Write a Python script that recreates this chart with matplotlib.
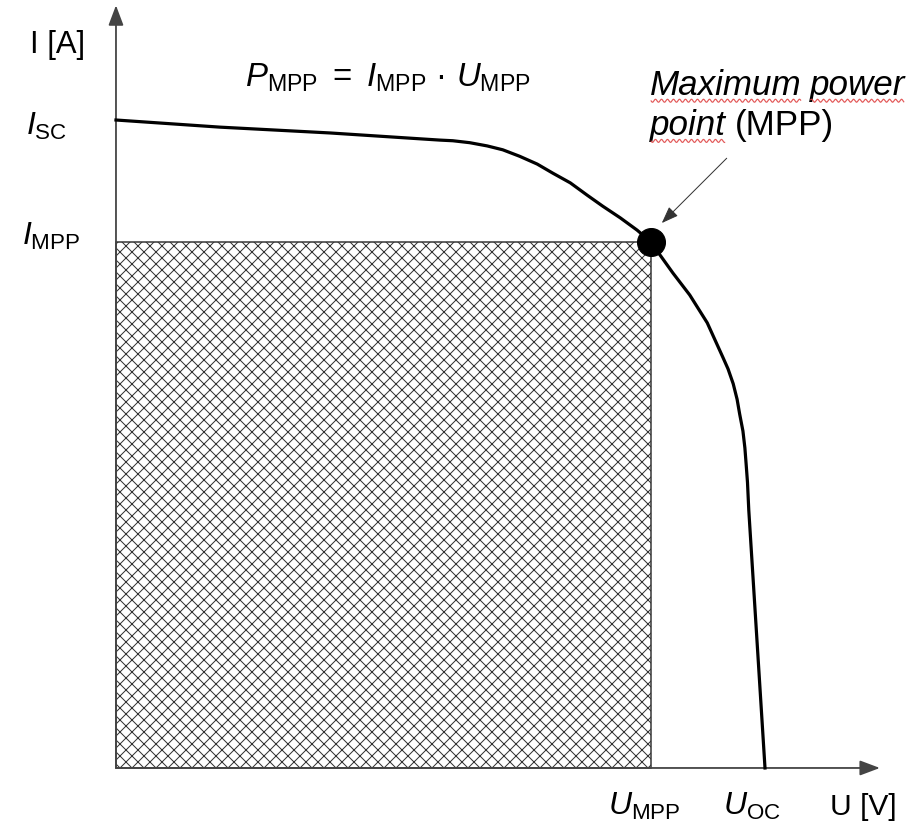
import numpy as np
import matplotlib
matplotlib.use("Agg")
import matplotlib.pyplot as plt
from matplotlib.patches import Rectangle, FancyArrowPatch
from matplotlib.lines import Line2D
from matplotlib.transforms import IdentityTransform

plt.rcParams['font.family'] = ['Liberation Sans', 'DejaVu Sans']
plt.rcParams['mathtext.fontset'] = 'custom'
plt.rcParams['mathtext.rm'] = 'Liberation Sans'
plt.rcParams['mathtext.it'] = 'Liberation Sans:italic'
plt.rcParams['mathtext.bf'] = 'Liberation Sans:bold'
plt.rcParams['hatch.linewidth'] = 1.0

# I-U characteristic (normalised: U_OC = 1, I_SC = 1)
U = [0.000, 0.160, 0.330, 0.468, 0.499, 0.519, 0.545, 0.572, 0.596, 0.622,
     0.649, 0.673, 0.700, 0.726, 0.750, 0.777, 0.803, 0.824, 0.838, 0.858,
     0.884, 0.911, 0.935, 0.943, 0.951, 0.957, 0.961, 0.966, 0.969, 0.971,
     0.973, 0.975, 1.000]
I = [1.000, 0.989, 0.980, 0.971, 0.969, 0.968, 0.965, 0.960, 0.954, 0.944,
     0.932, 0.918, 0.903, 0.884, 0.867, 0.849, 0.830, 0.812, 0.792, 0.764,
     0.730, 0.687, 0.634, 0.616, 0.593, 0.569, 0.546, 0.520, 0.494, 0.468,
     0.441, 0.398, 0.000]

I_SC = 1.0
U_OC = 1.0
U_MPP = 0.824
I_MPP = 0.812

W, H, DPI = 922, 832, 72
fig = plt.figure(figsize=(W / DPI, H / DPI), dpi=DPI)
ax = fig.add_axes([0, 0, 1, 1])
ax.set_xlim(-0.1787, 1.2419)
ax.set_ylim(-0.0988, 1.1852)
ax.axis('off')

axis_col = '#444444'

# hatched power rectangle
ax.add_patch(Rectangle((0, 0), U_MPP, I_MPP, facecolor='white',
                       edgecolor='#333333', hatch='xx', lw=1.5, zorder=1))

# axes with arrows
for end in [(0, 1.177), (1.177, 0)]:
    ax.add_patch(FancyArrowPatch((0, 0), end, arrowstyle='-|>,head_length=0.85,head_width=0.32',
                                 mutation_scale=20, color=axis_col, lw=1.8,
                                 shrinkA=0, shrinkB=0, zorder=3))

# curve and MPP
ax.plot(U, I, color='black', lw=3.2, solid_joinstyle='round', zorder=4)
ax.plot([U_MPP], [I_MPP], 'o', color='black', markersize=28, zorder=5)

fs = 32
ax.text(-0.1325, 1.103, 'I [A]', fontsize=31, va='baseline', ha='left')
ax.text(1.100, -0.0725, 'U [V]', fontsize=30, va='baseline', ha='left')

ax.annotate(r'$I_{\mathrm{SC}}$', xy=(0, I_SC), xytext=(-90, -15),
            textcoords='offset points', fontsize=fs, va='baseline', ha='left')
ax.annotate(r'$I_{\mathrm{MPP}}$', xy=(0, I_MPP), xytext=(-94, -3),
            textcoords='offset points', fontsize=fs, va='baseline', ha='left')
ax.annotate(r'$U_{\mathrm{MPP}}$', xy=(U_MPP, 0), xytext=(-43, -47),
            textcoords='offset points', fontsize=fs, va='baseline', ha='left')
ax.annotate(r'$U_{\mathrm{OC}}$', xy=(U_OC, 0), xytext=(-42, -47),
            textcoords='offset points', fontsize=fs, va='baseline', ha='left')

ax.text(0.199, 1.051, r'$P_{\mathrm{MPP}}\ \mathrm{=}\ I_{\mathrm{MPP}}\ \mathrm{·}\ U_{\mathrm{MPP}}$',
        fontsize=33, va='baseline', ha='left')

# MPP callout
cfs = 35
t_max = ax.text(0.823, 1.039, 'Maximum', fontsize=cfs, style='italic', va='baseline', ha='left')
t_pow = ax.annotate('power', xy=(1, 0), xycoords=t_max, xytext=(8, 0),
                    textcoords='offset points', fontsize=cfs, style='italic', va='bottom', ha='left')
t_pt = ax.text(0.823, 0.977, 'point', fontsize=cfs, style='italic', va='baseline', ha='left')
ax.annotate('(MPP)', xy=(1, 0), xycoords=t_pt, xytext=(9, 0),
            textcoords='offset points', fontsize=cfs, va='bottom', ha='left')

ax.annotate('', xy=(0.841, 0.841), xytext=(0.941, 0.941),
            arrowprops=dict(arrowstyle='-|>,head_length=0.8,head_width=0.3',
                            mutation_scale=18, color='#333333', lw=1,
                            shrinkA=0, shrinkB=0))

# red squiggles under the italic words
fig.canvas.draw()
for t in (t_max, t_pow, t_pt):
    bb = t.get_window_extent()
    xs = np.arange(bb.x0 + 1, bb.x1 - 1, 0.5)
    ys = bb.y0 + 1 + 1.5 * np.sin(xs * 2 * np.pi / 6.0)
    fig.add_artist(Line2D(xs, ys, transform=IdentityTransform(),
                          color='#e04848', lw=1.2, alpha=0.9))

fig.savefig('out.png', dpi=DPI)
